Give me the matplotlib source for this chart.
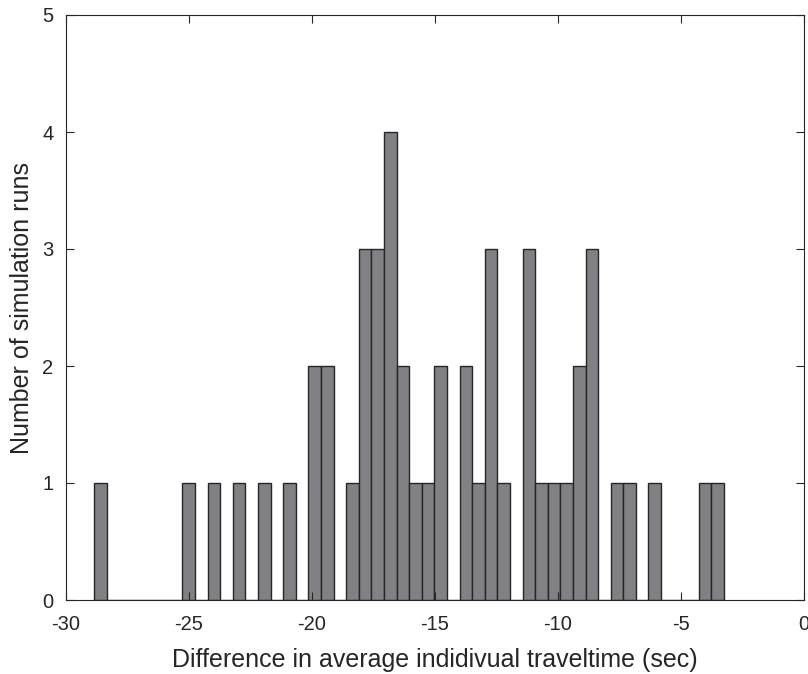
import numpy as np
import matplotlib
matplotlib.use("Agg")
import matplotlib.pyplot as plt

plt.rcParams['font.family'] = ['Liberation Sans', 'DejaVu Sans']
plt.rcParams['axes.unicode_minus'] = False

# Histogram data (50 bins)
bin_start = -28.85
bin_width = 0.512
counts = [1, 0, 0, 0, 0, 0, 0, 1, 0, 1,
          0, 1, 0, 1, 0, 1, 0, 2, 2, 0,
          1, 3, 3, 4, 2, 1, 1, 2, 0, 2,
          1, 3, 1, 0, 3, 1, 1, 1, 2, 3,
          0, 1, 1, 0, 1, 0, 0, 0, 1, 1]
xticks = [-30, -25, -20, -15, -10, -5, 0]
yticks = [0, 1, 2, 3, 4, 5]

edges = bin_start + bin_width * np.arange(len(counts) + 1)

fig = plt.figure(figsize=(8.08, 6.74), dpi=100)
ax = fig.add_axes([66/808, 74/674, (804-66)/808, (600-15)/674])
ax.bar(edges[:-1], counts, width=bin_width, align='edge',
       color='#808085', edgecolor='#262626', linewidth=1.0)
ax.set_xlim(-30, 0)
ax.set_ylim(0, 5)
ax.set_xticks(xticks)
ax.set_yticks(yticks)
ax.tick_params(direction='in', top=True, right=True, labelsize=14.5,
               colors='#262626', length=6, width=0.8)
ax.tick_params(axis='x', pad=11)
ax.tick_params(axis='y', pad=9)
for s in ax.spines.values():
    s.set_color('#262626')
    s.set_linewidth(0.8)
ax.set_xlabel('Difference in average indidivual traveltime (sec)', fontsize=18,
              color='#262626', va='center')
ax.set_ylabel('Number of simulation runs', fontsize=18, color='#262626', va='center')
ax.xaxis.set_label_coords(0.5, (600 - 660) / 585)
ax.yaxis.set_label_coords((22 - 66) / 738, 0.5)
fig.savefig('out.png', dpi=100)
